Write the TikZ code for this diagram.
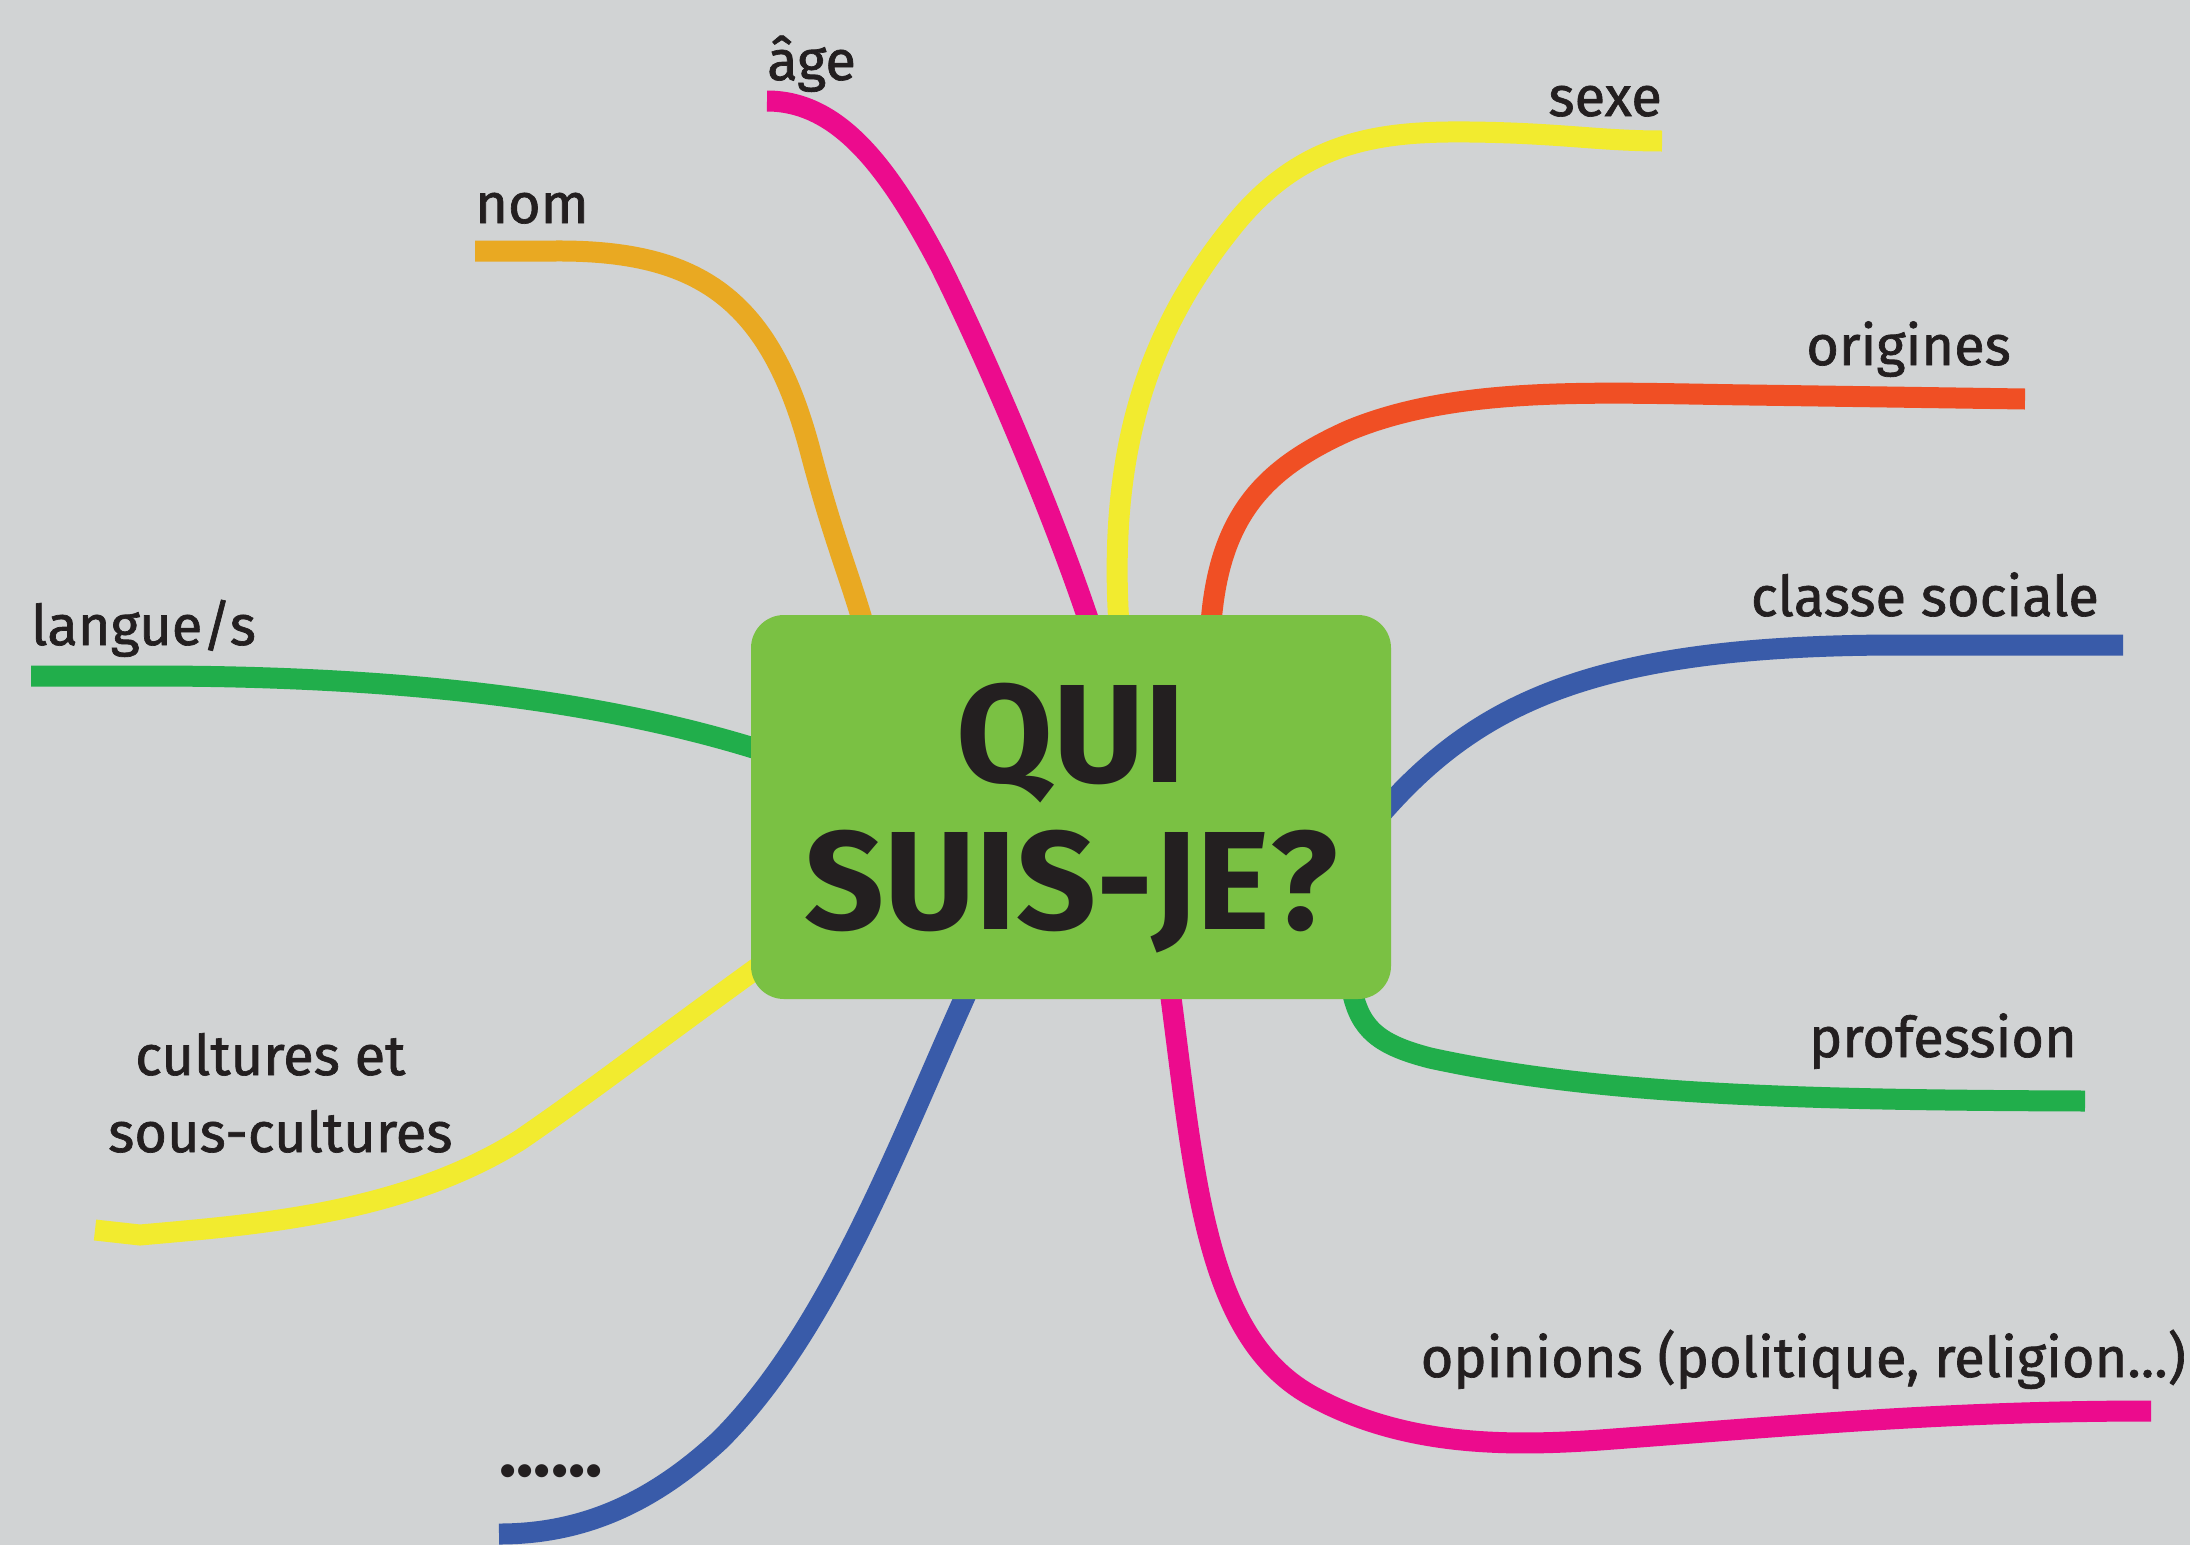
\documentclass[tikz,border=0pt]{standalone}
\usepackage{fontspec}
\setmainfont{Fira Sans}
\newfontfamily\lblfont[FakeBold=1.2]{Fira Sans}
\definecolor{bg}{HTML}{D1D3D4}
\definecolor{hubgreen}{HTML}{7AC143}
\definecolor{ink}{HTML}{231F20}
\definecolor{cpink}{HTML}{EC0B8D}
\definecolor{cyellow}{HTML}{F2EB2F}
\definecolor{corange}{HTML}{E9A922}
\definecolor{cred}{HTML}{F04F24}
\definecolor{cblue}{HTML}{395BA9}
\definecolor{cgreen}{HTML}{21AE4B}
\begin{document}
\begin{tikzpicture}[x=1pt,y=-1pt,
  branch/.style={line width=21pt, line cap=butt},
  lbl/.style={font=\lblfont\fontsize{56}{60}\selectfont, text=ink, inner sep=0pt},
  hubtxt/.style={font=\fontsize{140}{144}\selectfont\bfseries, text=ink, inner sep=0pt}]
\useasboundingbox (0,0) rectangle (2190,1545);
\fill[bg] (0,0) rectangle (2190,1545);

% end points of the branches
\coordinate (ageH) at (1095,640);   \coordinate (ageE) at (767,101);
\coordinate (nomH) at (868,640);    \coordinate (nomE) at (475,251);
\coordinate (lanH) at (760,750);    \coordinate (lanE) at (31,676);
\coordinate (sexH) at (1120,640);   \coordinate (sexE) at (1662,141);
\coordinate (oriH) at (1210,640);   \coordinate (oriE) at (2025,399);
\coordinate (claH) at (1380,815);   \coordinate (claE) at (2123,645);
\coordinate (proH) at (1352,990);   \coordinate (proE) at (2085,1101);
\coordinate (opiH) at (1170,990);   \coordinate (opiE) at (2151,1411);
\coordinate (culH) at (775,955);    \coordinate (culE) at (95,1230);
\coordinate (dotH) at (968,990);    \coordinate (dotE) at (499,1534);

% branches
\draw[branch, cpink] (ageE) .. controls (840,101) and (890,170) .. (940,265)
  .. controls (990,365) and (1060,530) .. (ageH);
\draw[branch, corange] (nomE) -- (555,251) .. controls (700,250) and (770,300) .. (810,450)
  .. controls (835,545) and (850,575) .. (nomH);
\draw[branch, cgreen] (lanE) -- (150,676) .. controls (400,676) and (600,700) .. (lanH);
\draw[branch, cyellow] (sexE) .. controls (1600,141) and (1560,133) .. (1470,132)
  .. controls (1380,131) and (1300,140) .. (1230,230)
  .. controls (1150,330) and (1105,450) .. (sexH);
\draw[branch, cred] (oriE) -- (1750,395) .. controls (1600,393) and (1460,385) .. (1350,430)
  .. controls (1260,470) and (1215,520) .. (oriH);
\draw[branch, cblue] (claE) -- (1900,645) .. controls (1600,645) and (1480,700) .. (claH);
\draw[branch, cgreen] (proH) .. controls (1360,1030) and (1380,1045) .. (1430,1058)
  .. controls (1600,1095) and (1800,1100) .. (proE);
\draw[branch, cpink] (opiH) .. controls (1195,1180) and (1205,1335) .. (1310,1395)
  .. controls (1400,1445) and (1500,1447) .. (1600,1440)
  .. controls (1800,1425) and (1950,1411) .. (opiE);
\draw[branch, cyellow] (culH) .. controls (650,1045) and (600,1085) .. (520,1140)
  .. controls (400,1215) and (250,1225) .. (140,1235) -- (culE);
\draw[branch, cblue] (dotH) .. controls (900,1140) and (830,1330) .. (720,1440)
  .. controls (650,1505) and (580,1534) .. (dotE);

% central box
\node[fill=hubgreen, rounded corners=33pt, minimum width=640pt, minimum height=384pt,
  inner sep=0pt] (hub) at (1071,807) {};
\node[hubtxt, anchor=base] (qui) at (1071,782) {QUI};
\node[hubtxt, anchor=base] (suis) at (1071,929) {SUIS-JE?};

% labels
\node[lbl, anchor=base west] (age) at (767,80) {âge};
\node[lbl, anchor=base west] (nom) at (475,223) {nom};
\node[lbl, anchor=base west] (langue) at (31,645) {langue/s};
\node[lbl, anchor=base east] (sexe) at (1662,116) {sexe};
\node[lbl, anchor=base east] (origines) at (2011,365) {origines};
\node[lbl, anchor=base east] (classe) at (2099,616) {classe sociale};
\node[lbl, anchor=base east] (profession) at (2077,1057) {profession};
\node[lbl, anchor=base east] (opinions) at (2186,1377) {opinions (politique, religion...)};
\node[lbl, anchor=base west] (cult1) at (135,1075) {cultures et};
\node[lbl, anchor=base west] (cult2) at (108,1152) {sous-cultures};
\node[lbl, anchor=base west, font=\fontsize{72}{76}\selectfont\bfseries] (dots) at (499,1476) {......};
\end{tikzpicture}
\end{document}
